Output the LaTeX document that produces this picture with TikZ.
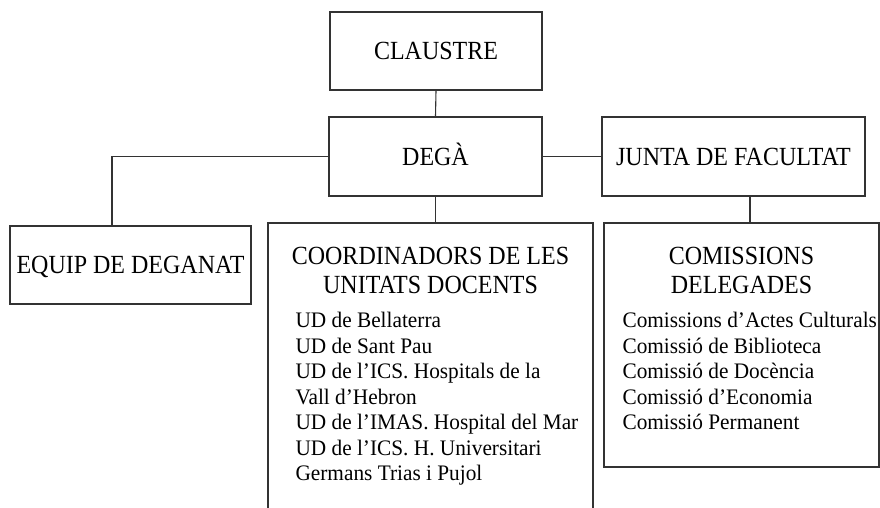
\documentclass[tikz,border=0pt]{standalone}
\usepackage{graphicx}
\usepackage{fontspec}
\setmainfont{Liberation Serif}
\newcommand\tallT[1]{\scalebox{1}[1.09]{#1}}
\newcommand\tallL[1]{\scalebox{1}[1.04]{#1}}
\begin{document}
\begin{tikzpicture}[x=1pt,y=-1pt,
  line width=1.1pt,
  box/.style={draw=black!80, line width=1.1pt, rectangle, inner sep=0pt,
    font=\fontsize{24}{29}\selectfont, text height=17.3pt, text depth=0pt},
  titletxt/.style={inner sep=0pt, anchor=base, font=\fontsize{24}{29}\selectfont},
  listtxt/.style={inner sep=0pt, anchor=base west, font=\fontsize{21.3}{25.5}\selectfont},
  conn/.style={draw=black!80, line width=1.1pt}]
\useasboundingbox (0,0) rectangle (880,508);
\clip (0,0) rectangle (880,508);
\fill[white] (0,0) rectangle (880,508);

\node[box, minimum width=212pt, minimum height=78pt] (claustre) at (436,51) {\tallT{CLAUSTRE}};
\node[box, minimum width=213pt, minimum height=79pt] (dega) at (435.5,156.5) {\tallT{DEGÀ}};
\node[box, minimum width=263pt, minimum height=79pt] (junta) at (733.5,156.5) {\tallT{JUNTA DE FACULTAT}};
\node[box, minimum width=241pt, minimum height=78pt] (equip) at (130.5,265) {\tallT{EQUIP DE DEGANAT}};
\node[box, minimum width=325pt, minimum height=307pt] (coord) at (430.5,376.5) {};
\node[box, minimum width=275pt, minimum height=244pt] (comis) at (741.5,345) {};

\coordinate (ecorner) at (112,156.5);
\coordinate (jx) at (750,0);

\draw[conn] (claustre.south) -- (dega.north);
\draw[conn] (dega.west) -- (ecorner) -- (ecorner |- equip.north);
\draw[conn] (dega.east) -- (junta.west);
\draw[conn] (dega.south) -- (dega.south |- coord.north);
\draw[conn] (jx |- junta.south) -- (jx |- comis.north);

\node[titletxt] (ct1) at (430.5,264) {\tallT{COORDINADORS DE LES}};
\node[titletxt] (ct2) at (430.5,293) {\tallT{UNITATS DOCENTS}};
\node[titletxt] (mt1) at (741.5,264) {\tallT{COMISSIONS}};
\node[titletxt] (mt2) at (741.5,293) {\tallT{DELEGADES}};

\foreach \t [count=\i] in {UD de Bellaterra, UD de Sant Pau, UD de l’ICS. Hospitals de la, Vall d’Hebron, UD de l’IMAS. Hospital del Mar, UD de l’ICS. H. Universitari, Germans Trias i Pujol}
  \node[listtxt] (ud\i) at (295,{327.5+25.5*(\i-1)}) {\tallL{\t}};

\foreach \t [count=\i] in {Comissions d’Actes Culturals, Comissió de Biblioteca, Comissió de Docència, Comissió d’Economia, Comissió Permanent}
  \node[listtxt] (cm\i) at (622,{327.5+25.5*(\i-1)}) {\tallL{\t}};
\end{tikzpicture}
\end{document}
